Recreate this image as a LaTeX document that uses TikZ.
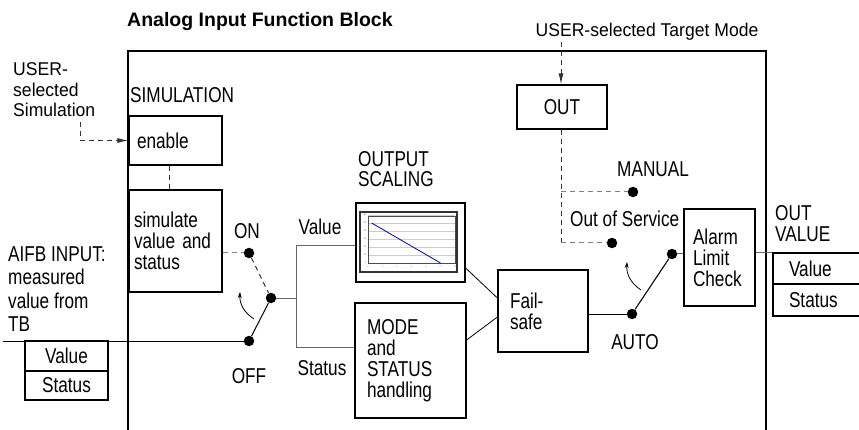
\documentclass[tikz,border=0pt]{standalone}
\usepackage{fontspec}
\setmainfont{Liberation Sans}[FakeStretch=0.8]
\newfontfamily\titlefont{Liberation Sans}
\newfontfamily\userfont{Liberation Sans}[FakeStretch=0.95]
\usetikzlibrary{arrows.meta}
\tikzset{
  blk/.style={draw,line width=1.2pt,rectangle,inner sep=0pt},
  txtblk/.style={blk,align=left,inner ysep=0pt},
  dot/.style={circle,fill,inner sep=0pt,minimum size=10.5pt},
  lbl/.style={inner sep=0pt},
  user lbl/.style={lbl,font=\userfont\fontsize{18.5}{20.5}\selectfont},
  conn/.style={draw=black!60,line width=1pt},
  ctrl/.style={draw=black!80,line width=1pt,dash pattern=on 5pt off 4pt},
  ctrl gray/.style={ctrl,draw=black!50},
  tip/.style={-{Latex[length=11pt,width=5pt]}},
  turn/.style={-{Stealth[length=6pt,width=4pt]},line width=0.8pt},
  tick lbl/.style={inner sep=0pt,text=black!50,font=\fontsize{2.5}{3}\selectfont}
}
\begin{document}
\begin{tikzpicture}[x=1pt,y=-1pt,font=\fontsize{21.5}{21}\selectfont]
\useasboundingbox (0,0) rectangle (859,430);
% function block frame, open below the page
\draw[line width=1.2pt] (128,440) -- (128,51) -- (766,51) -- (766,440);
\node[lbl,anchor=base west,font=\titlefont\bfseries\fontsize{19.5}{22}\selectfont] (title) at (127,27) {Analog Input Function Block};

% simulation part
\node[user lbl,anchor=north west,align=left] (usersim) at (13,62.8) {USER-\\selected\\Simulation};
\node[lbl,anchor=base west] (simlbl) at (130,103) {SIMULATION};
\node[txtblk,minimum width=93pt,minimum height=49pt,text width=77pt,inner xsep=8pt] (enable) at (175.5,140.5) {enable};
\node[txtblk,minimum width=93pt,minimum height=102pt,text width=83pt,inner xsep=5pt] (simbox) at (175.5,241) {simulate\\value and\\status};
\coordinate (usim) at (80,122);
\draw[ctrl,tip] (usim) |- (enable.west);
\draw[ctrl] ([xshift=-6pt]enable.south) -- ([xshift=-6pt]simbox.north);

% input
\node[lbl,anchor=north west,align=left,font=\fontsize{21.5}{23.3}\selectfont] (aifb) at (8,246.6) {AIFB INPUT:\\measured\\value from\\TB};
\node[blk,minimum width=83pt,minimum height=30pt] (inV) at (66.5,356) {Value};
\node[blk,minimum width=83pt,minimum height=29pt] (inS) at (66.5,385.5) {Status};
\coordinate (inl) at (3,341);

% simulation switch
\node[dot] (on) at (249,253) {};
\node[dot] (sw) at (271,298) {};
\node[dot] (off) at (249,341) {};
\node[lbl,anchor=base] (onlbl) at (247,238.5) {ON};
\node[lbl,anchor=base] (offlbl) at (249,383.5) {OFF};
\draw[conn,draw=black] (inl) -- (off);
\draw[ctrl gray] (simbox.east |- on) -- (on);
\draw[ctrl] (on) -- (sw);
\draw[line width=1pt] (sw) -- (off);
\coordinate (swA) at (254,319);
\coordinate (swB) at (240,292);
\draw[turn] (swA) to[bend left=30] (swB);

% value / status split
\coordinate (brkT) at (296,246);
\coordinate (brkB) at (296,347);
\node[lbl,anchor=base] (vallbl) at (320,235) {Value};
\node[lbl,anchor=base] (stlbl) at (322,375) {Status};

% output scaling
\node[lbl,anchor=north west,align=left,font=\fontsize{21.5}{20}\selectfont] (osclbl) at (358,151.6) {OUTPUT\\SCALING};
\node[blk,minimum width=109pt,minimum height=79pt] (osc) at (410.5,242.5) {};
\draw[line width=1.6pt,draw=black!80] (360,212) rectangle (457,272);
\foreach \v in {20,40,...,120}
  \draw[black!20,line width=0.4pt] (368,263-\v*0.4) -- (455,263-\v*0.4);
\draw[black!70,line width=0.8pt] (368,216) rectangle (455,263);
\foreach \v in {0,20,...,120}
  \node[tick lbl,anchor=east] at (366.5,263-\v*0.4) {\v};
\foreach \u in {0,2,...,12}
  \node[tick lbl] at (368+\u*7.25,267) {\u};
\draw[blue!70!black,line width=0.8pt] (368+7.25*0.5,223) -- (440.5,263);

\node[txtblk,minimum width=111pt,minimum height=115pt,text width=87pt,inner xsep=12pt] (mode) at (410.5,360.5) {MODE\\and\\STATUS\\handling};
\draw[conn] (sw) -- (sw -| brkT);
\draw[conn] (brkT -| osc.west) -- (brkT) -- (brkB) -- (brkB -| mode.west);

% fail-safe
\node[txtblk,minimum width=90pt,minimum height=82pt,text width=66pt,inner xsep=12pt] (fs) at (543,311) {Fail-\\safe};
\draw[line width=0.8pt] ([yshift=-25.5pt]osc.east) -- ([yshift=13pt]fs.west);
\draw[line width=0.8pt] ([yshift=20.5pt]mode.east) -- ([yshift=-6pt]fs.west);

% mode selection
\node[user lbl,anchor=base] (tgtlbl) at (647,37) {USER-selected Target Mode};
\node[blk,minimum width=90pt,minimum height=44pt] (outbox) at (562,107) {OUT};
\coordinate (tgt) at (561,42);
\draw[ctrl,tip] (tgt) -- (tgt |- outbox.north);
\node[dot] (man) at (633,192) {};
\node[dot] (oos) at (612,243) {};
\node[dot] (auto) at (632,314) {};
\node[dot] (al) at (672,254) {};
\node[lbl,anchor=base west] (manlbl) at (617,177) {MANUAL};
\node[lbl,anchor=base west] (ooslbl) at (570,226.5) {Out of Service};
\node[lbl,anchor=base] (autolbl) at (635,349) {AUTO};
\coordinate (mv) at (561,243);
\draw[ctrl] (outbox.south -| mv) -- (mv);
\draw[ctrl gray] (mv |- man) -- (man);
\draw[ctrl gray] (mv) -- (oos);
\draw[line width=1pt] (fs.east |- auto) -- (auto);
\draw[line width=1pt] (auto) -- (al);
\coordinate (auA) at (641,290);
\coordinate (auB) at (627,262);
\draw[turn] (auA) to[bend left=30] (auB);

% alarm and output
\node[txtblk,minimum width=71pt,minimum height=97pt,text width=53pt,inner xsep=9pt] (alarm) at (719.5,257.5) {Alarm\\Limit\\Check};
\draw[conn] (al) -- (alarm.west |- al);
\node[lbl,anchor=north west,align=left] (ovlbl) at (775,205) {OUT\\VALUE};
\node[txtblk,minimum width=97pt,minimum height=31pt,text width=65pt,inner xsep=16pt] (ovV) at (821.5,268.5) {Value};
\node[txtblk,minimum width=97pt,minimum height=32pt,text width=65pt,inner xsep=16pt] (ovS) at (821.5,300) {Status};
\draw[conn] (alarm.east |- ovV.north west) -- (ovV.north west);
\end{tikzpicture}
\end{document}
